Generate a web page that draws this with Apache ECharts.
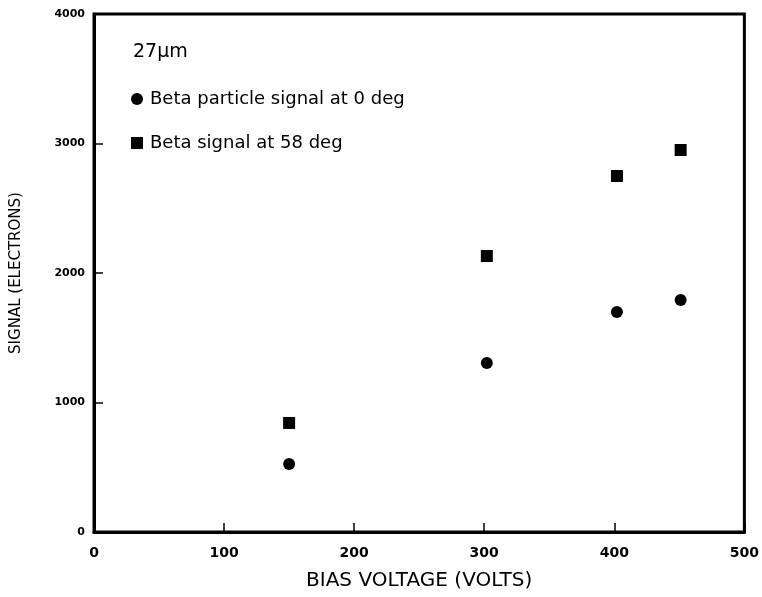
<!DOCTYPE html>
<html><head><meta charset="utf-8">
<script src="https://cdn.jsdelivr.net/npm/echarts@6/dist/echarts.min.js"></script>
<style>html,body{margin:0;padding:0;background:#fff}#c{width:762px;height:597px}</style>
</head><body><div id="c"></div>
<script>
const voltages = [150, 302, 402, 451];
const signal0deg = [525, 1305, 1699, 1791];
const signal58deg = [842, 2131, 2749, 2950];
const xTicks = [0, 100, 200, 300, 400, 500];
const yTicks = [0, 1000, 2000, 3000, 4000];
const series0Name = 'Beta particle signal at 0 deg';
const series58Name = 'Beta signal at 58 deg';
const font = 'DejaVu Sans';

const chart = echarts.init(document.getElementById('c'));
chart.setOption({
  animation: false,
  backgroundColor: '#fff',
  title: {
    text: '27\u03bcm', left: 128, top: 38,
    textStyle: {fontFamily: font, fontSize: 19, fontWeight: 'normal', color: '#000'}
  },
  legend: {
    orient: 'vertical', left: 126, top: 85, itemGap: 26,
    itemWidth: 12, itemHeight: 12,
    textStyle: {fontFamily: font, fontSize: 18, color: '#000', padding: [0,0,0,2]},
    itemStyle: {opacity: 1, color: '#000'},
    data: [{name: series0Name, icon: 'circle'}, {name: series58Name, icon: 'rect'}]
  },
  grid: {left: 94, right: 16, top: 14, bottom: 65, show: true, borderColor: '#000', borderWidth: 3, containLabel: false},
  xAxis: {
    type: 'value', min: 0, max: 500, interval: 100,
    name: 'BIAS VOLTAGE (VOLTS)', nameLocation: 'middle', nameGap: 39,
    nameTextStyle: {fontFamily: font, fontSize: 20, color: '#000'},
    axisLine: {lineStyle: {color: '#000', width: 3}},
    axisTick: {inside: true, length: 9, lineStyle: {color: '#000', width: 1.5}},
    axisLabel: {margin: 14, fontFamily: font, fontSize: 14, fontWeight: 'bold', color: '#000',
      formatter: v => xTicks.includes(v) ? String(v) : ''},
    splitLine: {show: false}, z: 5
  },
  yAxis: {
    type: 'value', min: 0, max: 4000, interval: 1000,
    name: 'SIGNAL (ELECTRONS)', nameLocation: 'middle', nameGap: 70,
    nameTextStyle: {fontFamily: font, fontSize: 15, color: '#000'},
    axisLine: {show: true, lineStyle: {color: '#000', width: 3}},
    axisTick: {show: true, inside: true, length: 9, lineStyle: {color: '#000', width: 1.5}},
    axisLabel: {margin: 9, fontFamily: font, fontSize: 11, fontWeight: 'bold', color: '#000',
      formatter: v => yTicks.includes(v) ? String(v) : ''},
    splitLine: {show: false}, z: 5
  },
  series: [
    {name: series0Name, type: 'scatter', symbol: 'circle', symbolSize: 12,
      itemStyle: {color: '#000', opacity: 1}, data: voltages.map((v, i) => [v, signal0deg[i]])},
    {name: series58Name, type: 'scatter', symbol: 'rect', symbolSize: 12,
      itemStyle: {color: '#000', opacity: 1}, data: voltages.map((v, i) => [v, signal58deg[i]])}
  ]
});
</script></body></html>
